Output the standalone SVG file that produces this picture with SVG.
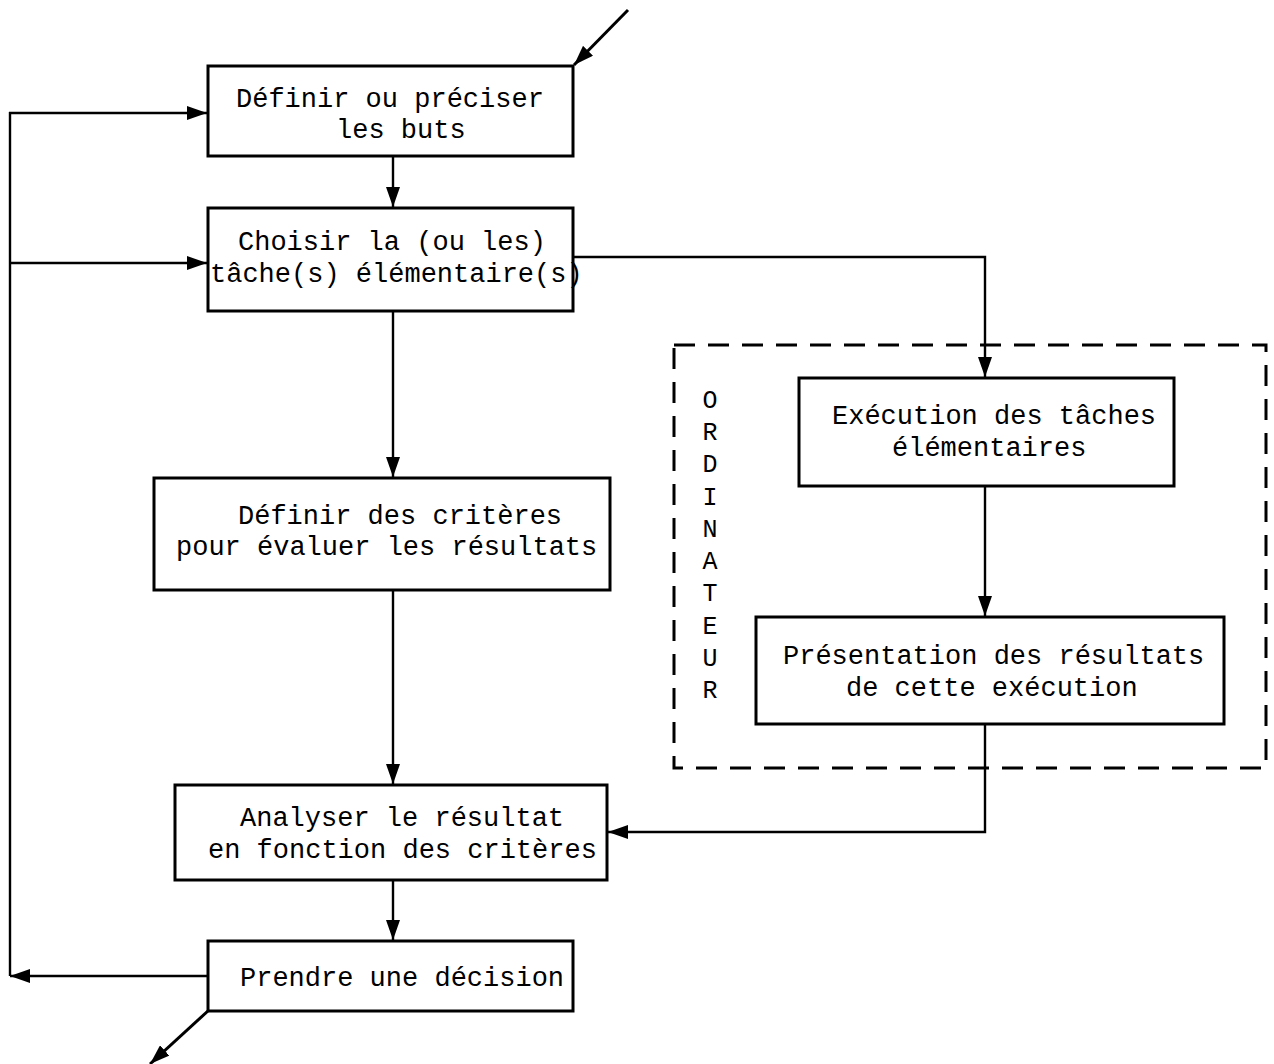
<svg xmlns="http://www.w3.org/2000/svg" width="1274" height="1064" viewBox="0 0 1274 1064">
  <style>
    .box { fill: #fff; stroke: #000; stroke-width: 3; }
    .lbl { font-family: "Liberation Mono", "DejaVu Sans Mono", monospace; font-size: 27px; fill: #000; }
    .vlbl { font-family: "Liberation Mono", "DejaVu Sans Mono", monospace; font-size: 25px; fill: #000; text-anchor: middle; }
    .wire { fill: none; stroke: #000; stroke-width: 2.4; }
    .diag { fill: none; stroke: #000; stroke-width: 3; }
    .dash { fill: none; stroke: #000; stroke-width: 3; stroke-dasharray: 21 13; }
  </style>
  <defs>
    <marker id="arrow" viewBox="0 0 20 14" refX="20" refY="7" markerWidth="20" markerHeight="14" markerUnits="userSpaceOnUse" orient="auto">
      <path d="M0,0 L20,7 L0,14 Z" fill="#000"/>
    </marker>
  </defs>
  <rect width="1274" height="1064" fill="#fff"/>

  <!-- computer boundary -->
  <g id="ordinateur">
    <rect class="dash" x="674" y="345" width="592" height="423"/>
    <text class="vlbl" x="710" y="408">O</text>
    <text class="vlbl" x="710" y="440">R</text>
    <text class="vlbl" x="710" y="472">D</text>
    <text class="vlbl" x="710" y="505">I</text>
    <text class="vlbl" x="710" y="537">N</text>
    <text class="vlbl" x="710" y="569">A</text>
    <text class="vlbl" x="710" y="601">T</text>
    <text class="vlbl" x="710" y="634">E</text>
    <text class="vlbl" x="710" y="666">U</text>
    <text class="vlbl" x="710" y="698">R</text>
  </g>

  <!-- connectors -->
  <g id="connectors">
    <line class="diag" x1="628" y1="10" x2="574" y2="65" marker-end="url(#arrow)"/>
    <line class="wire" x1="393" y1="156" x2="393" y2="207" marker-end="url(#arrow)"/>
    <line class="wire" x1="393" y1="311" x2="393" y2="477" marker-end="url(#arrow)"/>
    <line class="wire" x1="393" y1="590" x2="393" y2="784" marker-end="url(#arrow)"/>
    <line class="wire" x1="393" y1="880" x2="393" y2="940" marker-end="url(#arrow)"/>
    <polyline class="wire" points="573,257 985,257 985,377" marker-end="url(#arrow)"/>
    <line class="wire" x1="985" y1="486" x2="985" y2="616" marker-end="url(#arrow)"/>
    <polyline class="wire" points="985,724 985,832 608,832" marker-end="url(#arrow)"/>
    <line class="wire" x1="208" y1="976" x2="10" y2="976" marker-end="url(#arrow)"/>
    <line class="wire" x1="10" y1="976" x2="10" y2="112"/>
    <line class="wire" x1="9" y1="113" x2="207" y2="113" marker-end="url(#arrow)"/>
    <line class="wire" x1="9" y1="263" x2="207" y2="263" marker-end="url(#arrow)"/>
    <line class="diag" x1="209" y1="1010" x2="150" y2="1064" marker-end="url(#arrow)"/>
  </g>

  <g id="buts">
    <rect class="box" x="208" y="66" width="365" height="90"/>
    <text class="lbl" x="236" y="107">Définir ou préciser</text>
    <text class="lbl" x="336" y="138">les buts</text>
  </g>

  <g id="choisir">
    <rect class="box" x="208" y="208" width="365" height="103"/>
    <text class="lbl" x="238" y="250">Choisir la (ou les)</text>
    <text class="lbl" x="210" y="282">tâche(s) élémentaire(s)</text>
  </g>

  <g id="criteres">
    <rect class="box" x="154" y="478" width="456" height="112"/>
    <text class="lbl" x="238" y="524">Définir des critères</text>
    <text class="lbl" x="176" y="555">pour évaluer les résultats</text>
  </g>

  <g id="analyser">
    <rect class="box" x="175" y="785" width="432" height="95"/>
    <text class="lbl" x="240" y="826">Analyser le résultat</text>
    <text class="lbl" x="208" y="858">en fonction des critères</text>
  </g>

  <g id="decision">
    <rect class="box" x="208" y="941" width="365" height="70"/>
    <text class="lbl" x="240" y="986">Prendre une décision</text>
  </g>

  <g id="execution">
    <rect class="box" x="799" y="378" width="375" height="108"/>
    <text class="lbl" x="832" y="424">Exécution des tâches</text>
    <text class="lbl" x="892" y="456">élémentaires</text>
  </g>

  <g id="presentation">
    <rect class="box" x="756" y="617" width="468" height="107"/>
    <text class="lbl" x="783" y="664">Présentation des résultats</text>
    <text class="lbl" x="846" y="696">de cette exécution</text>
  </g>
</svg>
